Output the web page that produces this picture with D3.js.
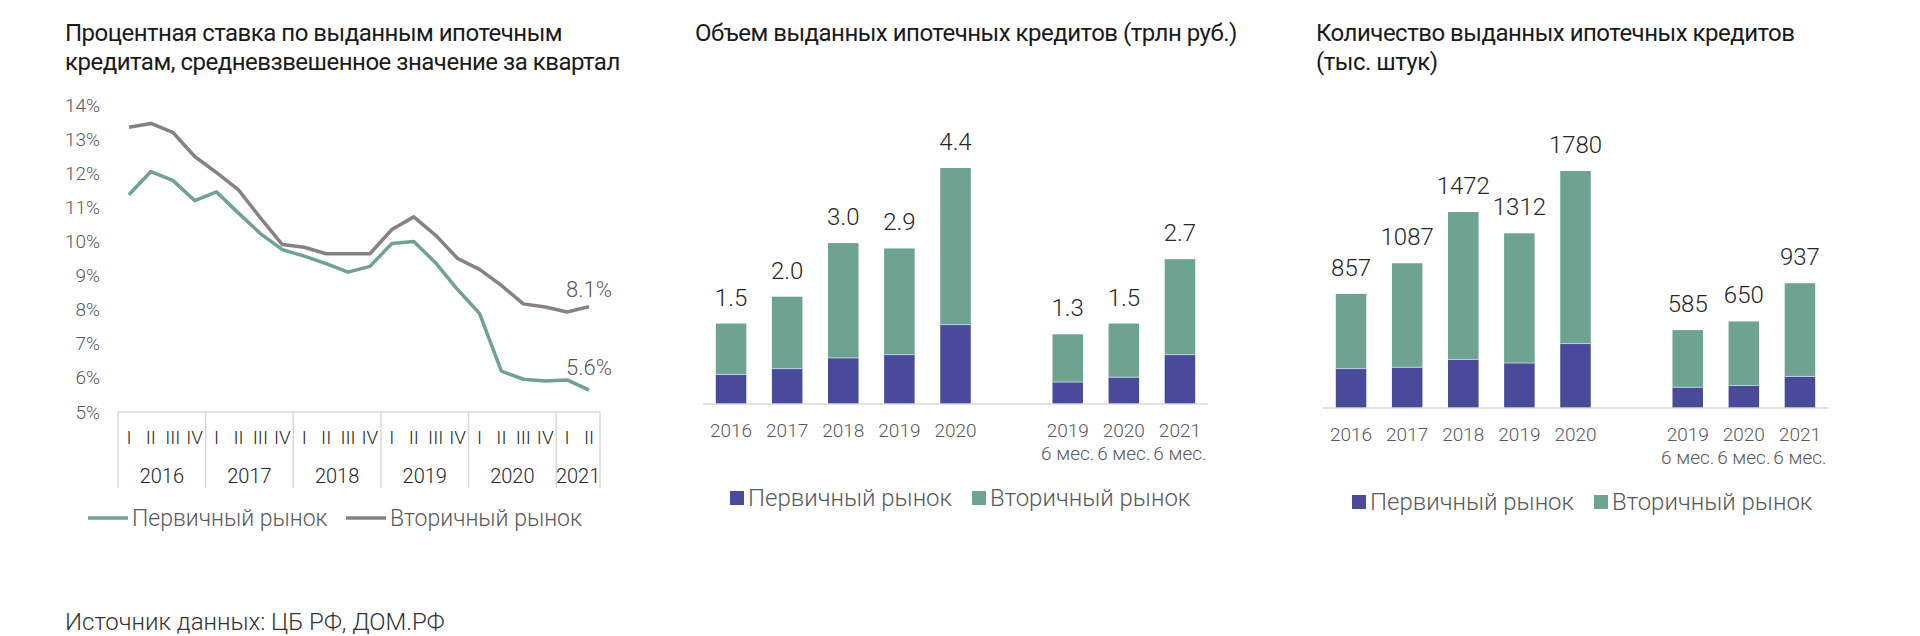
<!DOCTYPE html>
<html>
<head>
<meta charset="utf-8">
<script src="https://cdn.jsdelivr.net/npm/d3@7"></script>
<style>
  body { margin: 0; background: #fff; }
  svg text { font-family: Roboto, "Noto Sans", sans-serif; }
</style>
</head>
<body>
<div id="graph"></div>
<script>
// ===== data =====
// chart 1: rate by quarter
var quarters = ["I","II","III","IV","I","II","III","IV","I","II","III","IV","I","II","III","IV","I","II","III","IV","I","II"];
var rateYears = ["2016","2017","2018","2019","2020","2021"];
var rateYearSpans = [4, 4, 4, 4, 4, 2];
var ratePrimary = [11.37, 12.05, 11.79, 11.20, 11.45, 10.83, 10.23, 9.76, 9.57, 9.35, 9.10, 9.27, 9.94, 10.00, 9.37, 8.59, 7.89, 6.20, 5.96, 5.91, 5.94, 5.64];
var rateSecondary = [13.35, 13.46, 13.20, 12.49, 12.02, 11.51, 10.69, 9.91, 9.83, 9.64, 9.64, 9.64, 10.35, 10.72, 10.18, 9.50, 9.18, 8.71, 8.17, 8.08, 7.93, 8.09];
var rateTicks = [5, 6, 7, 8, 9, 10, 11, 12, 13, 14];

// charts 2 and 3: categories (empty slot = gap)
var barCats = ["2016", "2017", "2018", "2019", "2020", "", "2019 H1", "2020 H1", "2021 H1"];
var barLabels1 = ["2016", "2017", "2018", "2019", "2020", "", "2019", "2020", "2021"];
var barLabels2 = ["", "", "", "", "", "", "6 мес.", "6 мес.", "6 мес."];

// chart 2: volume, trillion rub
var volTotal = [1.5, 2.0, 3.0, 2.9, 4.4, null, 1.3, 1.5, 2.7];
var volPrimary = [0.55, 0.66, 0.86, 0.92, 1.48, null, 0.41, 0.50, 0.92];
var volLabels = ["1.5", "2.0", "3.0", "2.9", "4.4", "", "1.3", "1.5", "2.7"];

// chart 3: count, thousand
var cntTotal = [857, 1087, 1472, 1312, 1780, null, 585, 650, 937];
var cntPrimary = [296, 306, 365, 338, 484, null, 156, 169, 237];

var seriesNames = ["Первичный рынок", "Вторичный рынок"];

// ===== layout / style =====
var SVGwidth = 1920, SVGheight = 636;
var green = "#6ea392", blue = "#4a4a9a", grayLine = "#8b8081";
var lineGreen = "#6fa38f";
var labelColor = "#595959", darkText = "#262626";

var svg = d3.select("div#graph")
	.append("svg")
	.attr("width", SVGwidth)
	.attr("height", SVGheight);

// ===== titles =====
function title(x, y, lines) {
	var t = svg.append("text")
		.attr("x", x).attr("y", y)
		.attr("fill", "#1a1a1a")
		.style("font-size", "24px")
		.style("letter-spacing", "-0.5px");
	lines.forEach(function(l, i) {
		t.append("tspan").attr("x", x).attr("dy", i == 0 ? 0 : 29).text(l);
	});
}
title(65, 41, ["Процентная ставка по выданным ипотечным", "кредитам, средневзвешенное значение за квартал"]);
title(695, 41, ["Объем выданных ипотечных кредитов (трлн руб.)"]);
title(1316, 41, ["Количество выданных ипотечных кредитов", "(тыс. штук)"]);

svg.append("text")
	.attr("x", 65).attr("y", 630)
	.attr("fill", "#333")
	.style("font-size", "24px")
	.style("font-weight", 300)
	.text("Источник данных: ЦБ РФ, ДОМ.РФ");

// ===== chart 1: lines =====
var x1 = d3.scaleBand()
	.domain(d3.range(quarters.length))
	.range([118, 600]);

var y1 = d3.scaleLinear()
	.domain([5, 14])
	.range([412, 105]);

var g1 = svg.append("g");

g1.append("g")
	.attr("transform", "translate(100,0)")
	.call(d3.axisLeft(y1).tickValues(rateTicks).tickSize(0).tickFormat(function(d) { return d + "%"; }))
	.call(function(a) {
		a.select(".domain").remove();
		a.selectAll("text")
			.attr("x", 0)
			.attr("fill", labelColor)
			.style("font-size", "19px")
			.style("font-weight", 300)
			.style("font-family", "Roboto");
	});

// category box
var axisGrey = "#d9d9d9";
g1.append("line")
	.attr("x1", x1.range()[0]).attr("x2", x1.range()[1])
	.attr("y1", y1(5)).attr("y2", y1(5))
	.attr("stroke", axisGrey).attr("stroke-width", 1.5);

var bounds = [0];
rateYearSpans.forEach(function(s, i) { bounds.push(bounds[i] + s); });

g1.selectAll(".sep")
	.data(bounds)
	.enter()
	.append("line")
	.attr("x1", function(d) { return d < quarters.length ? x1(d) : x1.range()[1]; })
	.attr("x2", function(d) { return d < quarters.length ? x1(d) : x1.range()[1]; })
	.attr("y1", y1(5)).attr("y2", 488)
	.attr("stroke", axisGrey).attr("stroke-width", 1.5);

g1.selectAll(".q")
	.data(quarters)
	.enter()
	.append("text")
	.attr("x", function(d, i) { return x1(i) + x1.bandwidth() / 2; })
	.attr("y", 437)
	.attr("dy", "0.35em")
	.attr("text-anchor", "middle")
	.attr("fill", darkText)
	.style("font-size", "19px")
	.style("font-weight", 300)
	.text(function(d) { return d; });

g1.selectAll(".yr")
	.data(rateYears)
	.enter()
	.append("text")
	.attr("x", function(d, i) {
		var a = bounds[i], b = bounds[i + 1];
		return (x1(a) + (b < quarters.length ? x1(b) : x1.range()[1])) / 2;
	})
	.attr("y", 476)
	.attr("dy", "0.35em")
	.attr("text-anchor", "middle")
	.attr("fill", darkText)
	.style("font-size", "20px")
	.style("font-weight", 300)
	.text(function(d) { return d; });

var line = d3.line()
	.x(function(d, i) { return x1(i) + x1.bandwidth() / 2; })
	.y(function(d) { return y1(d); });

g1.append("path")
	.datum(rateSecondary)
	.attr("fill", "none")
	.attr("stroke", grayLine)
	.attr("stroke-width", 3.5)
	.attr("stroke-linejoin", "round")
	.attr("d", line);

g1.append("path")
	.datum(ratePrimary)
	.attr("fill", "none")
	.attr("stroke", lineGreen)
	.attr("stroke-width", 3.5)
	.attr("stroke-linejoin", "round")
	.attr("d", line);

var last = quarters.length - 1;
[[rateSecondary, "8.1%", 10], [ratePrimary, "5.6%", 15]].forEach(function(s) {
	g1.append("text")
		.attr("x", x1(last) + x1.bandwidth() / 2)
		.attr("y", y1(s[0][last]) - s[2])
		.attr("text-anchor", "middle")
		.attr("fill", labelColor)
		.style("font-size", "22px")
		.style("font-weight", 300)
		.text(s[1]);
});

// legend chart 1
var leg1 = [[88, lineGreen, seriesNames[0]], [346, grayLine, seriesNames[1]]];
leg1.forEach(function(l) {
	g1.append("line")
		.attr("x1", l[0]).attr("x2", l[0] + 40)
		.attr("y1", 518).attr("y2", 518)
		.attr("stroke", l[1]).attr("stroke-width", 3.5);
	g1.append("text")
		.attr("x", l[0] + 44).attr("y", 518)
		.attr("dy", "0.35em")
		.attr("fill", labelColor)
		.style("font-size", "23px")
		.style("font-weight", 300)
		.text(l[2]);
});

// ===== charts 2 & 3: stacked bars =====
function drawBars(opts) {
	var x = d3.scaleBand()
		.domain(barCats)
		.range(opts.xRange)
		.paddingInner(0.456)
		.paddingOuter(0.228);

	var y = d3.scaleLinear()
		.domain([0, opts.max])
		.range([opts.base, opts.top]);

	var rows = barCats.map(function(c, i) {
		return { cat: c, primary: opts.primary[i] || 0, secondary: opts.total[i] == null ? 0 : opts.total[i] - opts.primary[i], total: opts.total[i] };
	});

	var stack = d3.stack().keys(["primary", "secondary"]);
	var layers = stack(rows);
	var color = d3.scaleOrdinal().domain(["primary", "secondary"]).range([blue, green]);

	var g = svg.append("g");

	g.selectAll(".layer")
		.data(layers)
		.enter()
		.append("g")
		.attr("fill", function(d) { return color(d.key); })
		.selectAll("rect")
		.data(function(d) { return d.filter(function(e) { return e.data.total != null; }); })
		.enter()
		.append("rect")
		.attr("x", function(d) { return x(d.data.cat); })
		.attr("width", x.bandwidth())
		.attr("y", function(d) { return y(d[1]); })
		.attr("height", function(d) { return y(d[0]) - y(d[1]); });

	// thin line between segments
	g.selectAll(".seg")
		.data(rows.filter(function(r) { return r.total != null; }))
		.enter()
		.append("line")
		.attr("x1", function(d) { return x(d.cat); })
		.attr("x2", function(d) { return x(d.cat) + x.bandwidth(); })
		.attr("y1", function(d) { return y(d.primary); })
		.attr("y2", function(d) { return y(d.primary); })
		.attr("stroke", "#b9d3dc").attr("stroke-width", 1);

	g.append("line")
		.attr("x1", opts.xRange[0]).attr("x2", opts.xRange[1])
		.attr("y1", opts.base).attr("y2", opts.base)
		.attr("stroke", axisGrey).attr("stroke-width", 1.5);

	g.selectAll(".val")
		.data(rows.filter(function(r) { return r.total != null; }))
		.enter()
		.append("text")
		.attr("x", function(d) { return x(d.cat) + x.bandwidth() / 2; })
		.attr("y", function(d) { return y(d.total) - 18; })
		.attr("text-anchor", "middle")
		.attr("fill", darkText)
		.style("font-size", "24px")
		.style("font-weight", 300)
		.text(function(d, i) { return opts.fmt(d); });

	g.selectAll(".xl1")
		.data(barCats)
		.enter()
		.append("text")
		.attr("x", function(d) { return x(d) + x.bandwidth() / 2; })
		.attr("y", opts.base + 26)
		.attr("dy", "0.35em")
		.attr("text-anchor", "middle")
		.attr("fill", labelColor)
		.style("font-size", "19px")
		.style("font-weight", 300)
		.text(function(d, i) { return barLabels1[i]; });

	g.selectAll(".xl2")
		.data(barCats)
		.enter()
		.append("text")
		.attr("x", function(d) { return x(d) + x.bandwidth() / 2; })
		.attr("y", opts.base + 49)
		.attr("dy", "0.35em")
		.attr("text-anchor", "middle")
		.attr("fill", labelColor)
		.style("font-size", "19px")
		.style("font-weight", 300)
		.text(function(d, i) { return barLabels2[i]; });

	// legend
	var lx = opts.legendX;
	[[blue, seriesNames[0], 0], [green, seriesNames[1], opts.legendGap]].forEach(function(l) {
		g.append("rect")
			.attr("x", lx + l[2]).attr("y", opts.legendY - 7)
			.attr("width", 14).attr("height", 14)
			.attr("fill", l[0]);
		g.append("text")
			.attr("x", lx + l[2] + 18).attr("y", opts.legendY)
			.attr("dy", "0.35em")
			.attr("fill", labelColor)
			.style("font-size", "24px")
			.style("font-weight", 300)
			.text(l[1]);
	});
}

drawBars({
	xRange: [703, 1208],
	base: 404, top: 168, max: 4.4,
	total: volTotal, primary: volPrimary,
	fmt: function(d) { return volLabels[barCats.indexOf(d.cat)]; },
	legendX: 730, legendY: 498, legendGap: 242
});

drawBars({
	xRange: [1323, 1828],
	base: 408, top: 171, max: 1780,
	total: cntTotal, primary: cntPrimary,
	fmt: function(d) { return d.total; },
	legendX: 1352, legendY: 502, legendGap: 242
});
</script>
</body>
</html>
